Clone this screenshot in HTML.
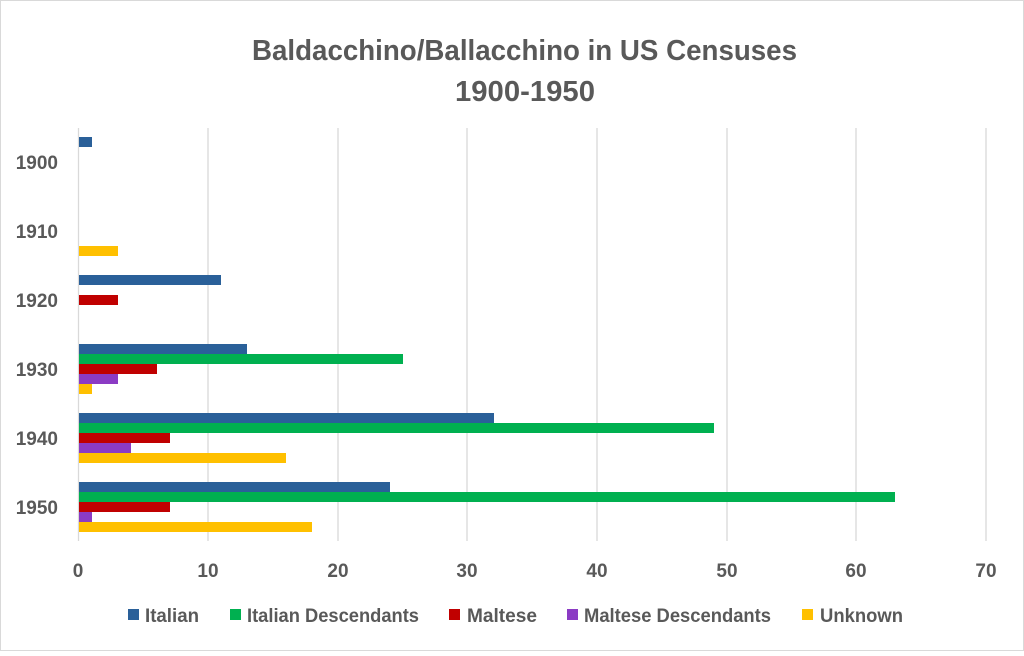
<!DOCTYPE html>
<html><head><meta charset="utf-8"><style>
body{margin:0;background:#fff}
svg text{font-family:"Liberation Sans",sans-serif;font-weight:bold;fill:#595959}
</style></head><body>
<svg width="1024" height="651" xmlns="http://www.w3.org/2000/svg">
<rect x="0.5" y="0.5" width="1023" height="650" fill="#fff" stroke="#d9d9d9"/>
<text x="252" y="60" font-size="29" textLength="545" lengthAdjust="spacingAndGlyphs">Baldacchino/Ballacchino in US Censuses</text>
<text x="455" y="101" font-size="29" textLength="140" lengthAdjust="spacingAndGlyphs">1900-1950</text>
<g stroke="#d9d9d9" stroke-width="1.3">
<line x1="78.5" y1="128" x2="78.5" y2="541"/>
<line x1="208" y1="128" x2="208" y2="541"/>
<line x1="338" y1="128" x2="338" y2="541"/>
<line x1="467" y1="128" x2="467" y2="541"/>
<line x1="597" y1="128" x2="597" y2="541"/>
<line x1="727" y1="128" x2="727" y2="541"/>
<line x1="856" y1="128" x2="856" y2="541"/>
<line x1="986" y1="128" x2="986" y2="541"/>
</g>
<g font-size="19" text-anchor="middle">
<text x="78" y="577">0</text><text x="208" y="577">10</text><text x="338" y="577">20</text><text x="467" y="577">30</text><text x="597" y="577">40</text><text x="727" y="577">50</text><text x="856" y="577">60</text><text x="986" y="577">70</text>
</g>
<g font-size="19" text-anchor="end">
<text x="58" y="169">1900</text><text x="58" y="238">1910</text><text x="58" y="307">1920</text><text x="58" y="376">1930</text><text x="58" y="445">1940</text><text x="58" y="514">1950</text>
</g>
<g>
<rect x="79" y="137" width="13" height="10" fill="#2a6099"/>
<rect x="79" y="246" width="39" height="10" fill="#ffc000"/>
<rect x="79" y="275" width="142" height="10" fill="#2a6099"/>
<rect x="79" y="295" width="39" height="10" fill="#c00000"/>
<rect x="79" y="344" width="168" height="10" fill="#2a6099"/>
<rect x="79" y="354" width="324" height="10" fill="#00b050"/>
<rect x="79" y="364" width="78" height="10" fill="#c00000"/>
<rect x="79" y="374" width="39" height="10" fill="#8b3bc4"/>
<rect x="79" y="384" width="13" height="10" fill="#ffc000"/>
<rect x="79" y="413" width="415" height="10" fill="#2a6099"/>
<rect x="79" y="423" width="635" height="10" fill="#00b050"/>
<rect x="79" y="433" width="91" height="10" fill="#c00000"/>
<rect x="79" y="443" width="52" height="10" fill="#8b3bc4"/>
<rect x="79" y="453" width="207" height="10" fill="#ffc000"/>
<rect x="79" y="482" width="311" height="10" fill="#2a6099"/>
<rect x="79" y="492" width="816" height="10" fill="#00b050"/>
<rect x="79" y="502" width="91" height="10" fill="#c00000"/>
<rect x="79" y="512" width="13" height="10" fill="#8b3bc4"/>
<rect x="79" y="522" width="233" height="10" fill="#ffc000"/>
</g>
<g font-size="19">
<rect x="128" y="609" width="11" height="11" fill="#2a6099"/><text x="145" y="622" textLength="54" lengthAdjust="spacingAndGlyphs">Italian</text>
<rect x="230" y="609" width="11" height="11" fill="#00b050"/><text x="247" y="622" textLength="172" lengthAdjust="spacingAndGlyphs">Italian Descendants</text>
<rect x="449" y="609" width="11" height="11" fill="#c00000"/><text x="467" y="622" textLength="70" lengthAdjust="spacingAndGlyphs">Maltese</text>
<rect x="567" y="609" width="11" height="11" fill="#8b3bc4"/><text x="584" y="622" textLength="187" lengthAdjust="spacingAndGlyphs">Maltese Descendants</text>
<rect x="802" y="609" width="11" height="11" fill="#ffc000"/><text x="820" y="622" textLength="83" lengthAdjust="spacingAndGlyphs">Unknown</text>
</g>
</svg>
</body></html>
